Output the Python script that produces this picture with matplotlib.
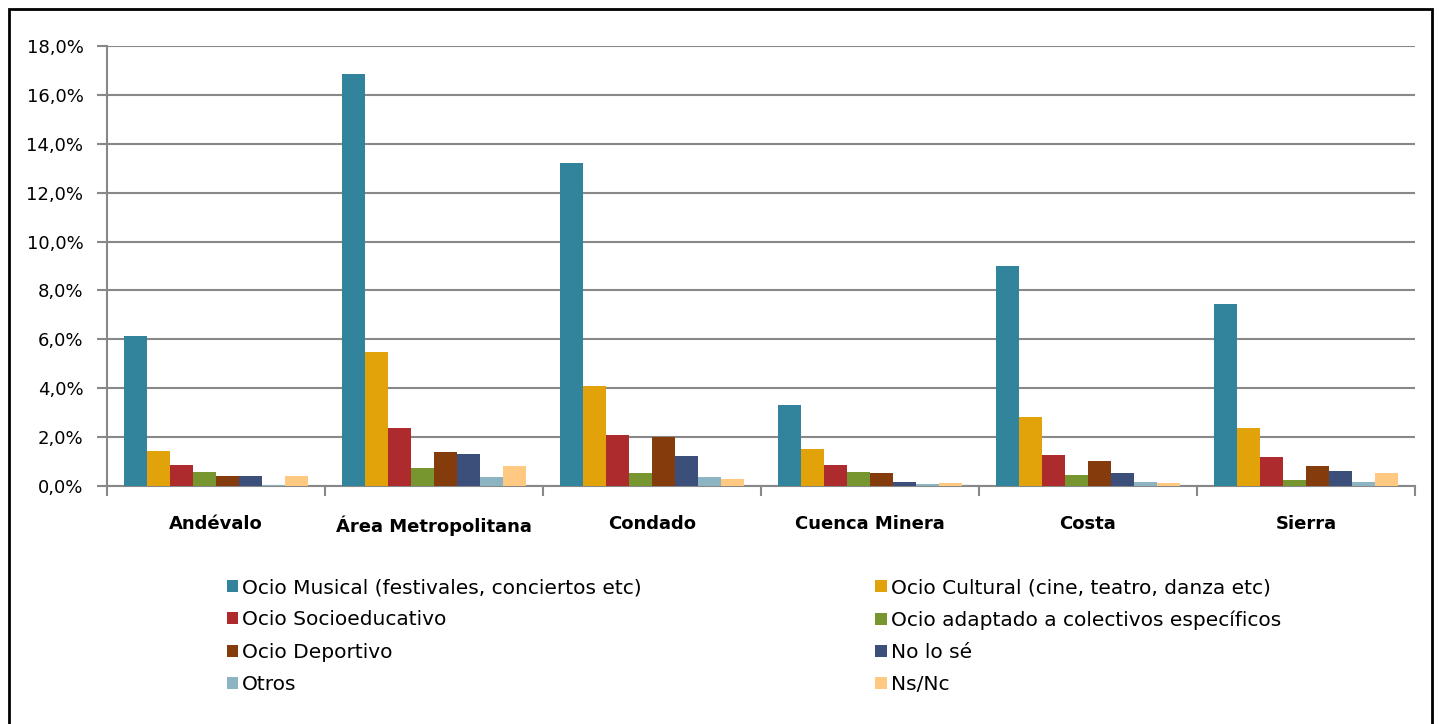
import numpy as np
import matplotlib.pyplot as plt
from matplotlib.patches import Rectangle
from matplotlib.ticker import FuncFormatter, FixedLocator

plt.rcParams['font.family'] = ['DejaVu Sans']

zonas = ['Andévalo', 'Área Metropolitana', 'Condado', 'Cuenca Minera', 'Costa', 'Sierra']
series = ['Ocio Musical (festivales, conciertos etc)',
          'Ocio Cultural (cine, teatro, danza etc)',
          'Ocio Socioeducativo',
          'Ocio adaptado a colectivos específicos',
          'Ocio Deportivo',
          'No lo sé',
          'Otros',
          'Ns/Nc']
musical = [6.15, 16.85, 13.22, 3.31, 9.0, 7.45]
cultural = [1.43, 5.48, 4.09, 1.53, 2.81, 2.37]
socioeducativo = [0.87, 2.36, 2.07, 0.87, 1.26, 1.19]
adaptado = [0.59, 0.74, 0.53, 0.59, 0.46, 0.25]
deportivo = [0.41, 1.39, 1.99, 0.53, 1.04, 0.82]
no_lo_se = [0.41, 1.31, 1.21, 0.15, 0.53, 0.60]
otros = [0.04, 0.37, 0.37, 0.08, 0.18, 0.16]
ns_nc = [0.41, 0.81, 0.30, 0.12, 0.12, 0.53]
valores = [musical, cultural, socioeducativo, adaptado, deportivo, no_lo_se, otros, ns_nc]
colores = ['#31849B', '#E2A30A', '#AD2A2D', '#77962F', '#843C0C', '#3C4F7A', '#8DB4C2', '#FFC982']

fig = plt.figure(figsize=(14.39, 7.24), dpi=100)
ax = fig.add_axes([107 / 1439, 1 - 486 / 724, 1308 / 1439, 440 / 724])

x = np.arange(len(zonas))
w = 0.105
handles = []
for i, (vals, col) in enumerate(zip(valores, colores)):
    b = ax.bar(x + (i - 3.5) * w, vals, w, color=col, label=series[i], zorder=3)
    handles.append(b)

ax.set_xlim(-0.5, len(zonas) - 0.5)
ax.set_ylim(0, 18)
ax.set_yticks(np.arange(0, 18.1, 2))
ax.yaxis.set_major_formatter(FuncFormatter(lambda v, p: f'{v:.1f}%'.replace('.', ',')))
ax.grid(axis='y', color='#888888', linewidth=1.5, zorder=0)
ax.set_xticks(x)
ax.set_xticklabels(zonas, fontweight='bold', fontsize=13)
ax.xaxis.set_minor_locator(FixedLocator(np.arange(-0.5, len(zonas), 1)))
ax.tick_params(axis='x', which='major', length=0, pad=21)
ax.tick_params(axis='x', which='minor', length=7, color='#888888', width=1.5)
ax.tick_params(axis='y', length=7, color='#888888', width=1.5, labelsize=13, pad=10)
for s in ['top', 'right']:
    ax.spines[s].set_visible(False)
for s in ['left', 'bottom']:
    ax.spines[s].set_color('#888888')
    ax.spines[s].set_linewidth(1.5)

order = [0, 2, 4, 6, 1, 3, 5, 7]
fig.legend([handles[i] for i in order], [series[i] for i in order],
           ncol=2, loc='upper left', bbox_to_anchor=(209 / 1439, 1 - 560 / 724),
           frameon=False, fontsize=14.5, handlelength=0.55, handleheight=0.55,
           handletextpad=0.2, columnspacing=11.6, labelspacing=0.66)

fig.patches.append(Rectangle((9 / 1439, -0.05), 1423 / 1439, 1.05 - 9 / 724,
                             transform=fig.transFigure, fill=False,
                             edgecolor='black', linewidth=2))

fig.savefig('out.png', dpi=100)
